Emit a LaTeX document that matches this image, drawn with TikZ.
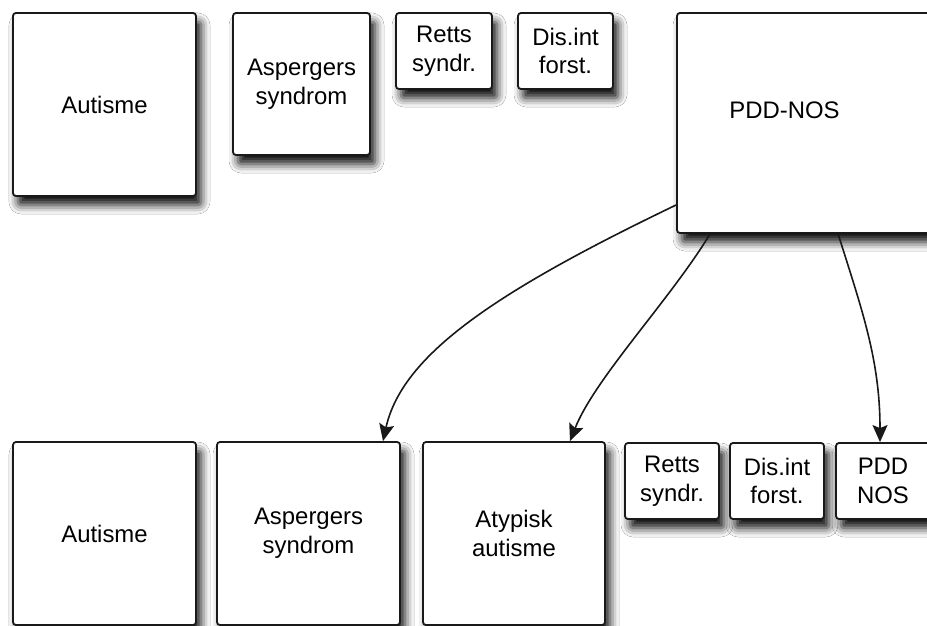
\documentclass[tikz,border=0pt]{standalone}
\usepackage{fontspec}
\setmainfont{Liberation Sans}
\usetikzlibrary{shadows.blur,arrows.meta}
\tikzset{
  box/.style={draw=black!90, line width=1.8bp, rounded corners=3bp, fill=white,
    inner sep=0pt, align=center, font=\fontsize{24}{29}\selectfont,
    blur shadow={shadow xshift=5bp, shadow yshift=-9bp, shadow blur radius=9bp, shadow opacity=95}},
  conn/.style={draw=black!90, line width=1.6bp, -{Stealth[length=17bp,width=15bp,inset=3bp]}}
}
\begin{document}
\begin{tikzpicture}[x=1bp,y=-1bp]
\useasboundingbox (0,0) rectangle (927,626);
\clip (0,0) rectangle (927,626);
\fill[white] (0,0) rectangle (927,626);
% top row
\node[box, minimum width=183bp, minimum height=183bp] (A1) at (104.5,104.5) {Autisme};
\node[box, minimum width=137bp, minimum height=142bp] (S1) at (301.5,84) {Aspergers\\syndrom};
\node[box, minimum width=96bp, minimum height=76bp] (R1) at (444,51) {Retts\\syndr.};
\node[box, minimum width=95bp, minimum height=76bp] (D1) at (565.5,51) {Dis.int\\forst.};
\node[box, minimum width=263bp, minimum height=220bp,
  label={[font=\fontsize{24}{29}\selectfont, xshift=-24bp, yshift=13bp]center:PDD-NOS}] (P1) at (808.5,123) {};
% bottom row
\node[box, minimum width=183bp, minimum height=183bp] (A2) at (104.5,533.5) {Autisme};
\node[box, minimum width=183bp, minimum height=183bp] (S2) at (308.5,533.5) {Aspergers\\syndrom};
\node[box, minimum width=182bp, minimum height=183bp] (T2) at (514,533.5) {Atypisk\\autisme};
\node[box, minimum width=94bp, minimum height=76bp] (R2) at (672,481) {Retts\\syndr.};
\node[box, minimum width=94bp, minimum height=76bp] (D2) at (777,481) {Dis.int\\forst.};
\node[box, minimum width=94bp, minimum height=76bp] (N2) at (883,481) {PDD\\NOS};
% connectors
\draw[conn] ([yshift=-82bp]P1.west) .. controls (495,292) and (402,355) .. ([xshift=74.5bp]S2.north);
\draw[conn] ([xshift=34bp]P1.south west) .. controls (670,300) and (595,378) .. ([xshift=56bp]T2.north);
\draw[conn] ([xshift=162bp]P1.south west) .. controls (862,310) and (880,360) .. ([xshift=-3bp]N2.north);
\end{tikzpicture}
\end{document}
